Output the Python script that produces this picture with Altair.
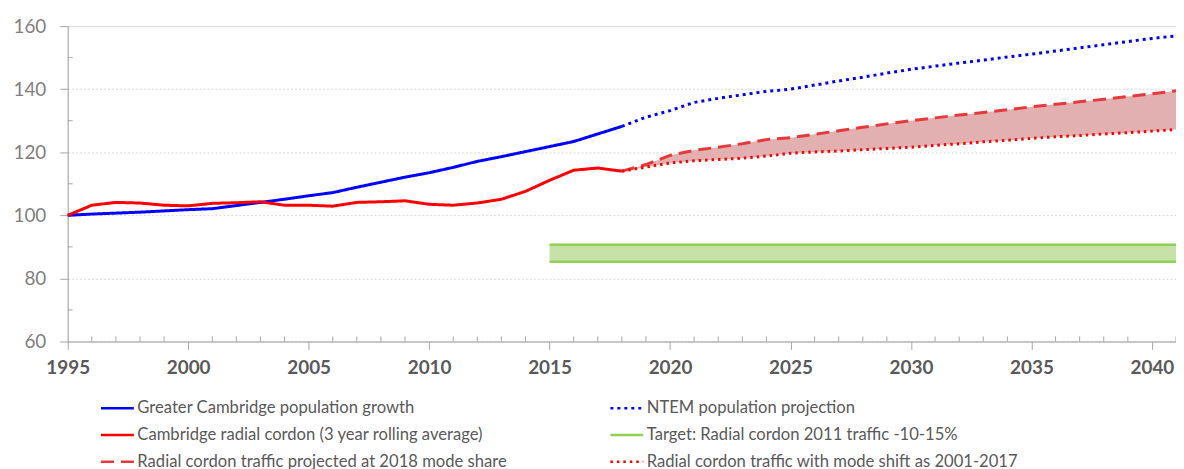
import altair as alt
import pandas as pd

# ---------------- data ----------------
hist_years = list(range(1995, 2019))
pop_growth = [100.0, 100.4, 100.7, 101.0, 101.4, 101.8, 102.1, 103.1, 104.1, 105.1,
              106.2, 107.2, 108.9, 110.5, 112.1, 113.5, 115.2, 117.1, 118.6, 120.2,
              121.8, 123.4, 125.8, 128.2]
cordon = [100.0, 103.2, 104.1, 103.9, 103.2, 103.0, 103.8, 104.0, 104.3, 103.2,
          103.2, 102.9, 104.1, 104.3, 104.6, 103.5, 103.2, 103.9, 105.1, 107.6,
          111.1, 114.3, 115.0, 114.0]

proj_years = list(range(2018, 2042))
ntem = [128.2, 131.1, 133.2, 135.8, 137.1, 138.2, 139.3, 140.0, 141.3, 142.6,
        143.8, 145.1, 146.3, 147.3, 148.3, 149.2, 150.2, 151.1, 152.1, 153.1,
        154.1, 155.1, 156.1, 156.9]
proj_2018_share = [114.0, 116.1, 119.0, 120.6, 121.6, 122.7, 124.0, 124.6, 125.7, 126.8,
                   127.9, 129.0, 130.0, 130.9, 131.8, 132.6, 133.5, 134.4, 135.2, 136.0,
                   136.8, 137.7, 138.5, 139.5]
mode_shift = [114.0, 115.3, 116.6, 117.3, 117.7, 118.1, 118.8, 119.7, 120.1, 120.4,
              120.8, 121.2, 121.6, 122.2, 122.7, 123.3, 123.8, 124.4, 124.9, 125.3,
              125.8, 126.2, 126.7, 127.2]

target_years = [2015, 2041]
target_upper = [90.7, 90.7]
target_lower = [85.3, 85.3]

# legend is laid out column by column: left column first, then right column
series_names = [
    "Greater Cambridge population growth",
    "Cambridge radial cordon (3 year rolling average)",
    "Radial cordon traffic projected at 2018 mode share",
    "NTEM population projection",
    "Target: Radial cordon 2011 traffic -10-15%",
    "Radial cordon traffic with mode shift as 2001-2017",
]
series_colors = ["#0000FF", "#FF0000", "#E8383B", "#0000FF", "#92D050", "#FF0000"]
series_dashes = [[1, 0], [1, 0], [13, 7], [3, 4], [1, 0], [2.5, 4]]

x_major = list(range(1995, 2041, 5))
x_minor = [y for y in range(1996, 2042) if y % 5 != 0]
y_major = [60, 80, 100, 120, 140, 160]
y_minor = [70, 90, 110, 130, 150]

# ---------------- tables ----------------
rows = []
for y, v in zip(hist_years, pop_growth):
    rows.append({"year": y, "value": v, "series": series_names[0]})
for y, v in zip(proj_years, ntem):
    rows.append({"year": y, "value": v, "series": series_names[3]})
for y, v in zip(hist_years, cordon):
    rows.append({"year": y, "value": v, "series": series_names[1]})
for y, v in zip(proj_years, proj_2018_share):
    rows.append({"year": y, "value": v, "series": series_names[2]})
for y, v in zip(proj_years, mode_shift):
    rows.append({"year": y, "value": v, "series": series_names[5]})
lines_df = pd.DataFrame(rows)

band_df = pd.DataFrame({"year": proj_years, "hi": proj_2018_share, "lo": mode_shift})
target_df = pd.DataFrame({"year": target_years, "hi": target_upper, "lo": target_lower})
xminor_df = pd.DataFrame({"year": x_minor})
yminor_df = pd.DataFrame({"v": y_minor})

W, H = 1114, 317
axis_gray = "#A6A6A6"
FONT = "Lato"

xscale = alt.Scale(domain=[1995, 2041], nice=False, zero=False)
yscale = alt.Scale(domain=[60, 160], nice=False, zero=False)

x_axis = alt.Axis(values=x_major, format="d", labelFontWeight="bold", labelColor="#595959",
                  labelFontSize=19, labelPadding=9, tickSize=8, tickColor=axis_gray,
                  domainColor=axis_gray, grid=False, title=None, labelFont=FONT,
                  labelFlush=False, labelOverlap=False)
y_axis = alt.Axis(values=y_major, labelColor="#7F7F7F", labelFontSize=19, labelPadding=14,
                  tickSize=8, tickColor=axis_gray, domainColor=axis_gray, grid=True,
                  gridColor="#D9D9D9", gridDash=[2, 2], gridWidth=1, title=None, labelFont=FONT,
                  labelFlush=False)

base_x = alt.X("year:Q", scale=xscale, axis=x_axis)

band = alt.Chart(band_df).mark_area(color="#E2B0B0", opacity=1).encode(
    x=base_x, y=alt.Y("hi:Q", scale=yscale, axis=y_axis), y2="lo:Q")

target_fill = alt.Chart(target_df).mark_area(color="#C6E2A8").encode(
    x=alt.X("year:Q", scale=xscale), y=alt.Y("hi:Q", scale=yscale), y2="lo:Q")
target_top = alt.Chart(target_df).mark_line(color="#92D050", strokeWidth=2.5).encode(
    x=alt.X("year:Q", scale=xscale), y=alt.Y("hi:Q", scale=yscale))
target_bot = alt.Chart(target_df).mark_line(color="#92D050", strokeWidth=2.5).encode(
    x=alt.X("year:Q", scale=xscale), y=alt.Y("lo:Q", scale=yscale))

legend = alt.Legend(title=None, orient="none", legendX=32, legendY=366, columns=2,
                    columnPadding=98, rowPadding=-7, symbolType="stroke", symbolSize=1089,
                    symbolStrokeWidth=2.5, labelFontSize=16.7, labelColor="#595959",
                    labelFont=FONT, labelOffset=2, labelLimit=0, symbolOpacity=1)

lines = alt.Chart(lines_df).mark_line(strokeWidth=3, strokeCap="butt").encode(
    x=alt.X("year:Q", scale=xscale),
    y=alt.Y("value:Q", scale=yscale),
    color=alt.Color("series:N", scale=alt.Scale(domain=series_names, range=series_colors),
                    legend=legend, sort=series_names),
    strokeDash=alt.StrokeDash("series:N", scale=alt.Scale(domain=series_names, range=series_dashes),
                              legend=legend, sort=series_names),
    detail="series:N",
)

xminor = alt.Chart(xminor_df).mark_rule(color=axis_gray, strokeWidth=1).encode(
    x=alt.X("year:Q", scale=xscale), y=alt.value(H - 5), y2=alt.value(H))
yminor = alt.Chart(yminor_df).mark_rule(color=axis_gray, strokeWidth=1).encode(
    y=alt.Y("v:Q", scale=yscale), x=alt.value(0), x2=alt.value(5))

chart = alt.layer(band, target_fill, target_top, target_bot, lines, xminor, yminor).properties(
    width=W, height=H,
    autosize=alt.AutoSizeParams(type="none"),
    padding={"left": 60, "top": 17, "right": 0, "bottom": 130},
).configure_view(stroke=None).configure(font=FONT, background="white")

chart.save("out.html", embed_options={"renderer": "svg", "actions": False})
